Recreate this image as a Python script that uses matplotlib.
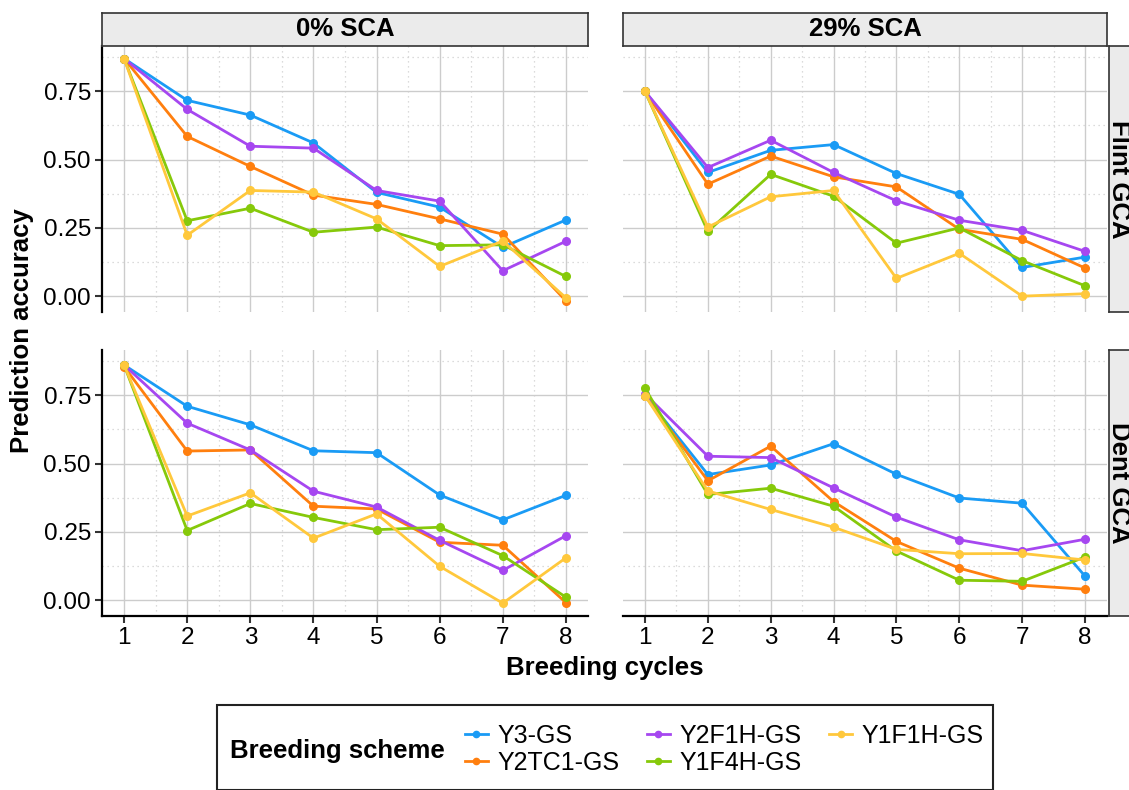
import numpy as np
import matplotlib.pyplot as plt
from matplotlib.patches import Rectangle
from matplotlib.lines import Line2D

plt.rcParams['font.family'] = ['Liberation Sans', 'DejaVu Sans']

# Data
cycles = [1, 2, 3, 4, 5, 6, 7, 8]
schemes = ['Y3-GS', 'Y2TC1-GS', 'Y2F1H-GS', 'Y1F4H-GS', 'Y1F1H-GS']
colors = ['#1A9BF5', '#FF7F0E', '#A647F0', '#86C90A', '#FFC83C']
col_labels = ['0% SCA', '29% SCA']
row_labels = ['Flint GCA', 'Dent GCA']

flint_0sca = {
    'Y3-GS':    [0.870, 0.717, 0.663, 0.561, 0.380, 0.326, 0.179, 0.279],
    'Y2TC1-GS': [0.870, 0.585, 0.475, 0.370, 0.336, 0.283, 0.227, -0.017],
    'Y2F1H-GS': [0.870, 0.684, 0.549, 0.542, 0.387, 0.348, 0.093, 0.201],
    'Y1F4H-GS': [0.870, 0.276, 0.322, 0.234, 0.253, 0.185, 0.188, 0.072],
    'Y1F1H-GS': [0.870, 0.223, 0.387, 0.381, 0.283, 0.109, 0.202, -0.006],
}
flint_29sca = {
    'Y3-GS':    [0.750, 0.453, 0.534, 0.555, 0.449, 0.373, 0.105, 0.143],
    'Y2TC1-GS': [0.750, 0.410, 0.513, 0.437, 0.400, 0.245, 0.208, 0.103],
    'Y2F1H-GS': [0.750, 0.471, 0.571, 0.453, 0.349, 0.278, 0.241, 0.164],
    'Y1F4H-GS': [0.750, 0.237, 0.446, 0.366, 0.194, 0.250, 0.130, 0.038],
    'Y1F1H-GS': [0.750, 0.253, 0.364, 0.387, 0.065, 0.157, 0.000, 0.009],
}
dent_0sca = {
    'Y3-GS':    [0.861, 0.710, 0.642, 0.547, 0.540, 0.385, 0.294, 0.384],
    'Y2TC1-GS': [0.855, 0.546, 0.550, 0.344, 0.334, 0.212, 0.201, -0.009],
    'Y2F1H-GS': [0.861, 0.648, 0.550, 0.399, 0.341, 0.219, 0.109, 0.236],
    'Y1F4H-GS': [0.861, 0.255, 0.354, 0.303, 0.258, 0.267, 0.163, 0.011],
    'Y1F1H-GS': [0.861, 0.308, 0.393, 0.227, 0.316, 0.124, -0.011, 0.155],
}
dent_29sca = {
    'Y3-GS':    [0.749, 0.460, 0.495, 0.573, 0.461, 0.374, 0.355, 0.088],
    'Y2TC1-GS': [0.749, 0.437, 0.564, 0.361, 0.215, 0.117, 0.055, 0.040],
    'Y2F1H-GS': [0.755, 0.527, 0.522, 0.411, 0.304, 0.221, 0.181, 0.223],
    'Y1F4H-GS': [0.776, 0.387, 0.410, 0.344, 0.180, 0.073, 0.069, 0.158],
    'Y1F1H-GS': [0.749, 0.400, 0.332, 0.267, 0.186, 0.170, 0.171, 0.147],
}
panels = [[flint_0sca, flint_29sca], [dent_0sca, dent_29sca]]

W, H = 1129, 790
fig = plt.figure(figsize=(W / 100, H / 100), dpi=100)


def box(x0, y0, x1, y1):
    # pixel box (top-left origin) -> figure fraction rect
    return [x0 / W, 1 - y1 / H, (x1 - x0) / W, (y1 - y0) / H]


col_x = [(102, 588), (623, 1107)]
row_y = [(46, 312), (350, 616)]
strip_bg = '#EBEBEB'
strip_ec = '#333333'

for r in range(2):
    for c in range(2):
        x0, x1 = col_x[c]
        y0, y1 = row_y[r]
        ax = fig.add_axes(box(x0, y0, x1, y1))
        data = panels[r][c]
        for name, color in zip(schemes, colors):
            ax.plot(cycles, data[name], color=color, lw=2.0, marker='o',
                    ms=5.5, mec=color, solid_joinstyle='round', zorder=3)
        ax.set_xlim(0.65, 8.35)
        ax.set_ylim(-0.058, 0.916)
        ax.set_xticks(cycles)
        ax.set_xticks(np.arange(1.5, 8, 1), minor=True)
        ax.set_yticks([0, 0.25, 0.5, 0.75])
        ax.set_yticks([0.125, 0.375, 0.625, 0.875], minor=True)
        ax.grid(which='major', color='#CCCCCC', lw=1.0)
        ax.grid(which='minor', color='#D0D0D0', lw=0.9, ls=(0, (1, 3)))
        ax.set_axisbelow(True)
        for s in ['top', 'right']:
            ax.spines[s].set_visible(False)
        ax.spines['left'].set_visible(c == 0)
        ax.spines['bottom'].set_visible(r == 1)
        for s in ['left', 'bottom']:
            ax.spines[s].set_linewidth(1.6)
            ax.spines[s].set_color('black')
        ax.tick_params(which='minor', length=0)
        ax.tick_params(axis='y', which='major', left=(c == 0), labelleft=(c == 0),
                       length=5, width=1.5, color='#333333', labelsize=17.5, pad=3)
        ax.tick_params(axis='x', which='major', bottom=(r == 1), labelbottom=(r == 1),
                       length=5, width=1.5, color='#333333', labelsize=17.5, pad=3)
        if c == 0:
            ax.set_yticklabels(['0.00', '0.25', '0.50', '0.75'])

        # top strips
        if r == 0:
            sax = fig.add_axes(box(x0, 13, x1, 46))
            sax.set_xticks([])
            sax.set_yticks([])
            sax.set_facecolor(strip_bg)
            for sp in sax.spines.values():
                sp.set_color(strip_ec)
                sp.set_linewidth(1.2)
            sax.text(0.5, 0.5, col_labels[c], ha='center', va='center',
                     fontsize=18.5, fontweight='bold', transform=sax.transAxes)
        # right strips (cut by the figure edge, as in the original)
        if c == 1:
            sax = fig.add_axes(box(1109, y0, 1142, y1))
            sax.set_xticks([])
            sax.set_yticks([])
            sax.set_facecolor(strip_bg)
            for sp in sax.spines.values():
                sp.set_color(strip_ec)
                sp.set_linewidth(1.2)
            fig.text(1119 / W, 1 - (y0 + y1) / 2 / H, row_labels[r],
                     ha='center', va='center', rotation=-90, fontsize=18.5,
                     fontweight='bold')

fig.text(22 / W, 1 - 331 / H, 'Prediction accuracy', rotation=90,
         ha='center', va='center', fontsize=18.5, fontweight='bold')
fig.text(605 / W, 1 - 668 / H, 'Breeding cycles', ha='center', va='center',
         fontsize=18.5, fontweight='bold')

# legend box
fig.patches.append(Rectangle((217 / W, 0), (993 - 217) / W, (790 - 705) / H,
                             transform=fig.transFigure, fill=False,
                             ec='#222222', lw=1.5))
fig.text(230 / W, 1 - 751 / H, 'Breeding scheme', ha='left', va='center',
         fontsize=18.5, fontweight='bold')
handles = [Line2D([], [], color=cl, lw=2.0, marker='o', ms=4.5) for cl in colors]
fig.legend(handles, schemes, ncol=3, loc='upper left',
           bbox_to_anchor=(465 / W, 1 - 724 / H), frameon=False,
           fontsize=18, handlelength=0.9, handletextpad=0.4,
           columnspacing=1.1, labelspacing=0.12, borderpad=0,
           borderaxespad=0)

fig.savefig('out.png', dpi=100)
